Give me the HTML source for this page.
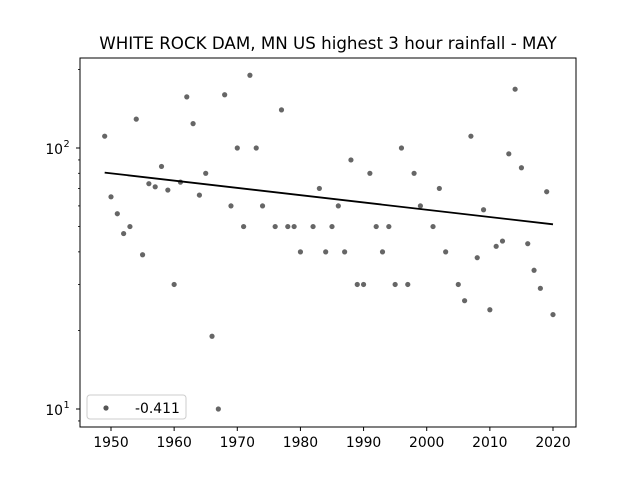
<!DOCTYPE html>
<html><head><meta charset="utf-8"><style>
body{margin:0;background:#fff;}
svg{display:block;font-family:"DejaVu Sans","Liberation Sans",sans-serif;}
</style></head><body>
<svg id="chart" width="640" height="480" viewBox="0 0 640 480">
<rect width="640" height="480" fill="#fff"/>
<text x="328" y="49" font-size="16.7" text-anchor="middle">WHITE ROCK DAM, MN US highest 3 hour rainfall - MAY</text>
<g id="plot"></g>
</svg>
<script>
const years=[1949,1950,1951,1952,1953,1954,1955,1956,1957,1958,1959,1960,1961,1962,1963,1964,1965,1966,1967,1968,1969,1970,1971,1972,1973,1974,1976,1977,1978,1979,1980,1982,1983,1984,1985,1986,1987,1988,1989,1990,1991,1992,1993,1994,1995,1996,1997,1998,1999,2001,2002,2003,2005,2006,2007,2008,2009,2010,2011,2012,2013,2014,2015,2016,2017,2018,2019,2020];
const rain=[111,65,56,47,50,129,39,73,71,85,69,30,74,157,124,66,80,19,10,160,60,100,50,190,100,60,50,140,50,50,40,50,70,40,50,60,40,90,30,30,80,50,40,50,30,100,30,80,60,50,70,40,30,26,111,38,58,24,42,44,95,168,84,43,34,29,68,23];
const trendYears=[1949,2020];
const trendVals=[80.5,51];
const xTicks=[1950,1960,1970,1980,1990,2000,2010,2020];
const legendLabel="-0.411";

const L=80,R=576,T=58,B=427;
const x=v=>111+(v-1950)*(553-111)/70;
const y=v=>148-(Math.log10(v)-2)*261;
const NS="http://www.w3.org/2000/svg";
const g=document.getElementById('plot');
function mk(t,a){const e=document.createElementNS(NS,t);for(const k in a)e.setAttribute(k,a[k]);g.appendChild(e);return e;}

for(let i=0;i<years.length;i++){
  const c=mk('circle',{cx:x(years[i]),cy:y(rain[i]),r:2.6,fill:'#555','fill-opacity':0.9});
  
  
}
const tl=mk('line',{x1:x(trendYears[0]),y1:y(trendVals[0]),x2:x(trendYears[1]),y2:y(trendVals[1]),stroke:'#000','stroke-width':1.8});



const fr=mk('rect',{x:L,y:T,width:R-L,height:B-T,fill:'none',stroke:'#000','stroke-width':1});



xTicks.forEach(t=>{
  const ln=mk('line',{x1:x(t),y1:B,x2:x(t),y2:B+4,stroke:'#000'});
  
  
  const tx=mk('text',{x:x(t),y:B+20,'font-size':13.9,'text-anchor':'middle'});
  tx.textContent=t;
  
  
});
[10,100].forEach(v=>{
  const ln=mk('line',{x1:L-4,y1:y(v),x2:L,y2:y(v),stroke:'#000'});
  
  
  const tx=mk('text',{x:63,y:y(v)+6,'font-size':13.9,'text-anchor':'end'});
  tx.textContent='10';
  
  
  const sp=mk('text',{x:63.5,y:y(v)-1,'font-size':9.7,'text-anchor':'start'});
  sp.textContent=String(Math.log10(v));
  
  
});
[9,20,30,40,50,60,70,80,90,200].forEach(v=>{
  const ln=mk('line',{x1:L-2,y1:y(v),x2:L,y2:y(v),stroke:'#000','stroke-width':0.8});
  
  
});

const lg=mk('rect',{x:87,y:395,width:99,height:24,rx:3,fill:'#fff',stroke:'#ccc'});


const lm=mk('circle',{cx:106,cy:408,r:2.6,fill:'#555'});


const lt=mk('text',{x:135,y:413,'font-size':13.9});
lt.textContent=legendLabel;


</script>
</body></html>
